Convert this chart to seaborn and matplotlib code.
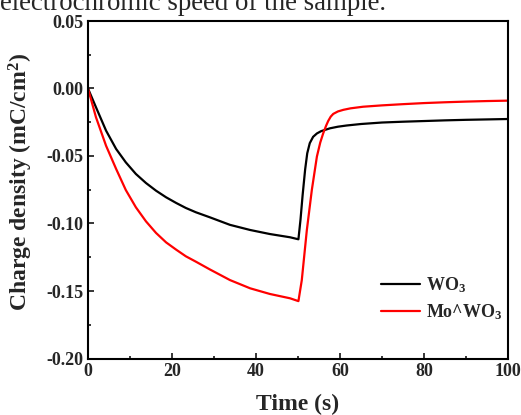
import numpy as np
import pandas as pd
import matplotlib
matplotlib.use("Agg")
import matplotlib.pyplot as plt
import seaborn as sns
from matplotlib.ticker import MultipleLocator

# ---- data ----
wo3_t = [0, 1.9, 4.3, 6.7, 9.0, 11.4, 13.8, 16.2, 18.6, 21.0, 23.3, 25.7, 29.0, 33.8,
         38.6, 43.3, 48.1, 50.1,
         50.6, 51.1, 51.7, 52.2, 52.8, 53.6, 54.5, 55.5, 57.6, 59.5, 61.6, 65, 70, 75,
         80, 85, 90, 95, 100]
wo3_v = [0, -0.0139, -0.0312, -0.0448, -0.0547, -0.0633, -0.0700, -0.0757, -0.0806,
         -0.0848, -0.0885, -0.0917, -0.0954, -0.1010, -0.1048, -0.1078, -0.1102, -0.1117,
         -0.0970, -0.0790, -0.0600, -0.0480, -0.0405, -0.0358, -0.0333, -0.0316, -0.0295,
         -0.0283, -0.0274, -0.0263, -0.0252, -0.0246, -0.0241, -0.0236, -0.0232, -0.0229,
         -0.0226]

mo_t = [0, 1.9, 4.3, 6.7, 9.0, 11.4, 13.8, 16.2, 18.6, 21.0, 23.3, 25.7, 29.0, 33.8,
        38.6, 43.3, 48.1, 50.1,
        50.9, 52.1, 53.3, 54.5, 55.3, 56.0, 56.7, 57.2, 57.8, 58.4, 59.5, 60.8, 62.5,
        65.5, 70, 75, 80, 85, 90, 95, 100]
mo_v = [0, -0.0213, -0.0424, -0.0596, -0.0752, -0.0880, -0.0984, -0.1070, -0.1140,
        -0.1194, -0.1243, -0.1283, -0.1340, -0.1419, -0.1480, -0.1522, -0.1554, -0.1575,
        -0.1420, -0.1050, -0.0750, -0.0504, -0.0400, -0.0332, -0.0275, -0.0240, -0.0208,
        -0.0188, -0.0170, -0.0158, -0.0147, -0.0135, -0.0125, -0.0116, -0.0108, -0.0102,
        -0.0097, -0.0093, -0.0090]

labels = ["WO$_3$", "Mo^WO$_3$"]
colors = ["#000000", "#ff0000"]
x_ticks = [0, 20, 40, 60, 80, 100]
y_ticks = [0.05, 0.00, -0.05, -0.10, -0.15, -0.20]

df = pd.concat([
    pd.DataFrame({"t": wo3_t, "v": wo3_v, "s": labels[0]}),
    pd.DataFrame({"t": mo_t, "v": mo_v, "s": labels[1]}),
])

sns.set_style("ticks")
plt.rcParams["font.family"] = ["Liberation Serif", "DejaVu Serif"]
plt.rcParams["mathtext.fontset"] = "custom"
plt.rcParams["mathtext.rm"] = "Liberation Serif:bold"
plt.rcParams["mathtext.it"] = "Liberation Serif:bold"
plt.rcParams["mathtext.bf"] = "Liberation Serif:bold"
plt.rcParams["lines.solid_joinstyle"] = "round"

fig = plt.figure(figsize=(5.21, 4.15), dpi=100)
ax = fig.add_axes([88/521, 1-358.5/415, 420/521, (358.5-21)/415])

sns.lineplot(data=df, x="t", y="v", hue="s", palette=dict(zip(labels, colors)),
             sort=False, estimator=None, linewidth=1.6, ax=ax)

ax.set_xlim(0, 100)
ax.set_ylim(-0.20, 0.05)
ax.set_xticks(x_ticks)
ax.set_yticks(y_ticks)
ax.set_xticklabels([f"{v:g}" for v in x_ticks])
ax.set_yticklabels([f"{v:.2f}" for v in y_ticks])
ax.xaxis.set_minor_locator(MultipleLocator(10))
ax.yaxis.set_minor_locator(MultipleLocator(0.025))
ax.tick_params(which="both", direction="in", top=False, right=False, width=1.3)
ax.tick_params(which="major", length=4, labelsize=13, pad=3)
ax.tick_params(which="minor", length=2.5)
for lab in ax.get_xticklabels() + ax.get_yticklabels():
    lab.set_fontweight("bold")
for sp in ax.spines.values():
    sp.set_linewidth(1.5)
    sp.set_color("black")

ax.set_xlabel("Time (s)", fontsize=17, fontweight="bold", labelpad=10.5)
ax.set_ylabel("Charge density (mC/cm$^2$)", fontsize=17, fontweight="bold")
ax.yaxis.set_label_coords(-0.125, 0.523)

leg = ax.legend(loc="lower right", bbox_to_anchor=(1.025, 0.06), frameon=False,
                fontsize=13, handlelength=2.2, handletextpad=0.3, labelspacing=0.4)
for t in leg.get_texts():
    t.set_fontweight("bold")

fig.text(0.0, 1 - 10.5/415, "electrochromic speed of the sample.", fontsize=19.4,
         ha="left", va="baseline")

fig.savefig("out.png", dpi=100)
